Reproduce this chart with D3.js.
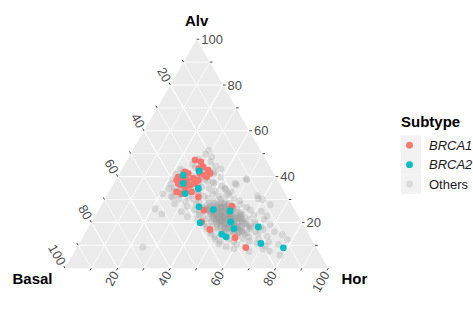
<!DOCTYPE html>
<html>
<head>
<meta charset="utf-8">
<script src="https://cdn.jsdelivr.net/npm/d3@7"></script>
<style>
  html, body { margin: 0; padding: 0; background: #ffffff; }
  svg { display: block; font-family: "Liberation Sans", Arial, Helvetica, sans-serif; }
</style>
</head>
<body>
<svg id="chart" width="473" height="336"></svg>
<script>
// Ternary composition plot: Basal / Alv / Hor (percent), coloured by subtype.
// Each sample is stored as [Alv, Hor]; Basal is the remainder to 100.

const axisNames = ["Basal", "Alv", "Hor"];
const tickValues = [10, 20, 30, 40, 50, 60, 70, 80, 90, 100];
const tickLabels = ["20", "40", "60", "80", "100"];
const subtypes = ["BRCA1", "BRCA2", "Others"];
const subtypeColors = ["#F8766D", "#00BFC4", "#999999"];

const brca1 = [
  [47.2, 25.8], [46.4, 28.4], [44.2, 30.4], [42.8, 33.0], [41.4, 34.4],
  [39.9, 33.9], [41.4, 30.6], [41.4, 26.1], [42.1, 24.5], [39.9, 23.1],
  [38.4, 23.2], [38.4, 25.1], [38.4, 27.0], [39.2, 29.1], [38.4, 31.4],
  [37.0, 30.9], [36.2, 29.4], [35.5, 27.8], [37.0, 24.5], [33.3, 25.8],
  [32.6, 28.0], [33.3, 29.2], [33.3, 31.4], [40.6, 32.9], [31.1, 35.1],
  [25.3, 40.1], [27.1, 49.8], [20.2, 41.8], [16.9, 46.6], [13.3, 57.9],
  [9.0, 64.2], [43.5, 29.0], [36.5, 25.6]
];

const brca2 = [
  [40.6, 24.6], [42.5, 29.7], [37.0, 26.4], [32.6, 29.3], [34.8, 33.2],
  [26.8, 37.5], [25.6, 43.5], [25.0, 50.2], [19.8, 41.4], [20.2, 52.8],
  [17.3, 55.5], [14.8, 52.1], [13.7, 54.3], [18.0, 64.4], [10.8, 69.0],
  [8.9, 78.5]
];

const others = [
  [51.5, 28.9], [49.8, 28.5], [48.7, 31.3], [47.6, 26.9], [46.5, 32.2],
  [45.4, 25.7], [44.6, 34.9], [43.3, 22.3], [42.1, 35.6], [43.4, 37.5],
  [41.2, 21.5], [40.0, 29.0], [41.1, 35.9], [39.8, 39.3], [40.9, 25.3], [39.9, 32.9],
  [38.9, 21.4], [37.8, 28.3], [38.8, 33.6], [37.6, 37.4], [38.9, 49.5], [37.9, 24.5], [39.1, 31.3],
  [36.8, 21.8], [35.6, 26.3], [36.5, 30.1], [35.3, 34.3], [37.1, 38.0], [35.9, 41.5], [36.6, 46.8],
  [35.1, 24.0], [37.0, 32.4],
  [34.7, 22.1], [33.5, 24.7], [34.4, 29.7], [33.2, 34.2], [34.9, 37.3], [33.7, 40.3], [34.5, 43.7],
  [33.4, 46.4], [34.8, 26.6], [33.6, 31.9],
  [32.5, 20.9], [31.3, 24.7], [32.2, 27.7], [31.0, 31.5], [32.7, 34.2], [31.5, 37.2], [32.4, 39.9],
  [31.2, 42.9], [32.6, 46.0], [31.7, 57.3],
  [30.3, 28.1], [29.1, 31.1], [30.1, 33.8], [28.9, 36.4], [30.5, 39.1], [29.2, 41.8], [30.2, 44.0],
  [29.0, 46.3], [30.4, 49.0], [29.4, 51.6], [30.0, 60.0],
  [28.1, 27.6], [26.9, 32.9], [27.8, 36.0], [26.7, 38.7], [28.3, 40.6], [27.0, 42.5], [28.0, 44.4],
  [26.8, 46.3], [28.2, 48.2], [27.1, 50.4], [27.9, 52.7], [26.6, 55.7], [27.7, 64.1],
  [25.9, 21.2], [24.7, 31.8], [25.6, 36.4], [24.5, 38.6], [26.1, 40.5], [24.9, 42.4], [25.8, 44.3],
  [24.6, 46.2], [26.0, 48.1], [24.8, 50.0], [25.7, 52.3], [24.4, 54.6], [25.5, 57.6], [24.9, 62.1],
  [23.7, 24.9], [22.5, 35.2], [23.5, 39.3], [22.4, 41.2], [23.9, 43.1], [22.7, 45.0], [23.6, 46.9],
  [22.3, 48.8], [23.8, 50.7], [22.6, 52.6], [23.4, 54.9], [22.2, 57.2], [23.3, 60.2], [22.8, 65.2],
  [21.6, 39.3], [20.4, 41.6], [21.5, 43.5], [20.3, 45.4], [21.8, 47.3], [20.6, 49.2], [21.4, 51.1],
  [20.2, 53.0], [21.7, 54.9], [20.5, 57.1], [21.3, 59.4], [20.1, 62.1], [21.2, 65.1],
  [19.4, 43.0], [18.2, 44.9], [19.3, 46.8], [18.1, 48.7], [19.6, 50.6], [18.4, 52.5], [19.2, 54.4],
  [18.0, 56.3], [19.5, 58.6], [18.3, 60.9], [19.1, 62.8], [17.9, 65.4], [19.0, 68.5],
  [17.2, 45.3], [16.0, 47.5], [17.1, 49.4], [15.9, 51.3], [17.4, 53.2], [16.2, 55.1], [17.0, 57.0],
  [15.8, 59.3], [17.3, 61.6], [16.1, 64.2], [16.9, 66.9], [16.0, 71.5],
  [15.0, 47.8], [13.8, 50.1], [14.9, 52.4], [13.7, 54.7], [15.2, 56.6], [14.0, 58.5], [14.8, 60.8],
  [13.6, 63.0], [15.1, 65.7], [13.9, 69.9], [14.6, 75.2],
  [12.8, 50.5], [11.6, 53.1], [12.7, 55.8], [11.5, 58.4], [13.0, 61.1], [11.8, 64.1], [12.6, 67.2],
  [11.4, 71.7], [12.5, 78.2],
  [10.6, 53.1], [9.4, 56.5], [10.5, 60.0], [9.3, 63.7], [10.8, 67.5], [9.6, 71.3], [10.4, 75.9],
  [8.5, 59.9], [7.3, 66.3], [8.4, 70.9], [7.5, 73.9],
  [5.7, 78.8], [9.2, 25.0], [31.0, 25.5],
  [37.0, 46.1], [38.7, 49.6], [34.8, 43.4], [31.9, 45.5], [30.4, 58.2],
  [24.0, 47.5], [22.0, 49.5], [20.0, 48.0], [22.5, 51.5], [19.5, 53.5], [24.5, 44.5],
  [26.0, 49.0], [20.5, 56.0], [17.5, 52.0], [23.5, 55.5], [15.5, 58.0], [18.0, 61.5],
  [27.0, 45.5], [21.5, 46.0], [19.0, 50.0], [25.5, 41.5],
  // dense core of the lower group
  [27.8, 40.2], [28.3, 42.7], [27.2, 44.1], [28.0, 46.5], [27.4, 48.3], [26.9, 41.5], [28.6, 45.0], [27.1, 47.2],
  [25.8, 41.0], [26.2, 43.4], [25.5, 45.6], [26.4, 47.1], [25.1, 49.3], [25.9, 51.0], [26.6, 44.8], [25.3, 42.2],
  [26.1, 49.9], [24.8, 46.9],
  [23.9, 43.6], [24.3, 45.2], [23.4, 47.5], [24.1, 49.1], [23.6, 51.4], [24.4, 52.8], [23.2, 44.9], [23.8, 50.2],
  [24.6, 47.8], [22.9, 53.5],
  [22.2, 45.0], [21.6, 46.6], [22.4, 48.4], [21.3, 50.1], [22.0, 51.9], [21.8, 53.6], [22.6, 55.2], [21.1, 47.9],
  [21.5, 56.4], [22.3, 49.8],
  [20.4, 47.2], [19.6, 49.0], [20.2, 50.7], [19.3, 52.4], [20.6, 54.1], [19.8, 55.6], [20.1, 57.3], [19.1, 51.0],
  [20.8, 52.8], [19.5, 58.9],
  [18.2, 50.0], [17.6, 51.8], [18.4, 53.5], [17.2, 55.1], [18.0, 56.8], [17.5, 58.4], [18.6, 60.0], [17.0, 53.0],
  [18.3, 57.5],
  [16.2, 52.4], [15.7, 54.5], [16.4, 56.2], [15.3, 57.9], [16.0, 59.6], [15.5, 61.4], [16.6, 58.5],
  [23.0, 46.0], [21.0, 48.5], [22.8, 50.6], [20.5, 49.4], [24.7, 44.0], [19.9, 53.6], [21.9, 54.5], [23.5, 48.9],
  [20.7, 51.9], [22.5, 47.1], [18.9, 54.7], [24.2, 50.5], [26.3, 46.0], [17.8, 55.9], [21.4, 52.3],
  // extra samples around the upper group
  [43.9, 27.4], [41.8, 23.9], [39.4, 27.8], [37.4, 29.6], [35.8, 32.8], [38.0, 35.2], [42.5, 31.8], [40.3, 30.8]
];

const series = [brca1, brca2, others];

const W = 473, H = 336;
const svg = d3.select("#chart");
svg.append("rect").attr("width", W).attr("height", H).attr("fill", "#ffffff");

// Cartesian placement of a composition: Alv sets the height, Hor + Alv/2 the horizontal position.
const xScale = d3.scaleLinear().domain([0, 100]).range([65, 328.3]);
const yScale = d3.scaleLinear().domain([0, 100]).range([268.2, 39.2]);
const project = (alv, hor) => [xScale(hor + alv / 2), yScale(alv)];

const plot = svg.append("g");

// Panel background
const corners = [project(0, 0), project(100, 0), project(0, 100)];
plot.append("polygon")
  .attr("points", corners.map(p => p.join(",")).join(" "))
  .attr("fill", "#ebebeb");

// Grid lines for every 10%
const grid = plot.append("g").attr("stroke", "#ffffff").attr("fill", "none");
tickValues.filter(v => v < 100).forEach(v => {
  const w = v % 20 === 0 ? 1.1 : 0.75;
  const segs = [
    [project(v, 0), project(v, 100 - v)],          // Alv constant
    [project(100 - v, 0), project(0, 100 - v)],    // Basal constant
    [project(0, v), project(100 - v, v)]           // Hor constant
  ];
  segs.forEach(([a, b]) => {
    grid.append("line")
      .attr("x1", a[0]).attr("y1", a[1]).attr("x2", b[0]).attr("y2", b[1])
      .attr("stroke-width", w);
  });
});

// Ticks and labels along the three edges
const cos60 = 0.5, sin60 = Math.sqrt(3) / 2;
const edges = [
  { name: "Alv",   at: v => project(v, 100 - v), dir: [1, 0],           rot: 0,   anchor: "start" },
  { name: "Basal", at: v => project(100 - v, 0), dir: [-cos60, -sin60], rot: 60,  anchor: "end" },
  { name: "Hor",   at: v => project(0, v),       dir: [-cos60, sin60],  rot: -60, anchor: "end" }
];
const tickLen = 2.6, labelGap = 4.6;
const axes = plot.append("g");
edges.forEach(e => {
  tickValues.forEach(v => {
    const p = e.at(v);
    axes.append("line")
      .attr("x1", p[0]).attr("y1", p[1])
      .attr("x2", p[0] + e.dir[0] * tickLen).attr("y2", p[1] + e.dir[1] * tickLen)
      .attr("stroke", "#333333").attr("stroke-width", 0.9);
  });
  tickLabels.forEach(t => {
    const p = e.at(+t);
    const lx = p[0] + e.dir[0] * labelGap, ly = p[1] + e.dir[1] * labelGap;
    axes.append("text")
      .attr("transform", `translate(${lx},${ly}) rotate(${e.rot})`)
      .attr("text-anchor", e.anchor)
      .attr("dy", "0.36em")
      .attr("font-size", 13)
      .attr("fill", "#4d4d4d")
      .text(t);
  });
});

// Points: Others underneath, then BRCA1, then BRCA2
const pointLayer = plot.append("g");
[2, 0, 1].forEach(i => {
  pointLayer.append("g")
    .selectAll("circle")
    .data(series[i])
    .join("circle")
    .attr("cx", d => project(d[0], d[1])[0])
    .attr("cy", d => project(d[0], d[1])[1])
    .attr("r", 3.4)
    .attr("fill", subtypeColors[i])
    .attr("fill-opacity", i === 2 ? 0.27 : 1);
});

// Vertex titles
const titles = [
  { text: axisNames[1], x: 196.7, y: 25.5, anchor: "middle" },
  { text: axisNames[0], x: 12.5, y: 283.5, anchor: "start" },
  { text: axisNames[2], x: 341.5, y: 283.5, anchor: "start" }
];
titles.forEach(t => {
  svg.append("text")
    .attr("x", t.x).attr("y", t.y)
    .attr("text-anchor", t.anchor)
    .attr("font-size", 15)
    .attr("font-weight", "bold")
    .attr("fill", "#000000")
    .text(t.text);
});

// Legend
const legend = svg.append("g").attr("transform", "translate(401,0)");
legend.append("text")
  .attr("x", 0).attr("y", 127)
  .attr("font-size", 15).attr("font-weight", "bold")
  .text("Subtype");
const keyY = d3.scaleBand().domain(subtypes).range([135.5, 193.8]);
legend.selectAll("rect.key")
  .data(subtypes)
  .join("rect")
  .attr("class", "key")
  .attr("x", 0).attr("y", d => keyY(d))
  .attr("width", 20).attr("height", keyY.bandwidth())
  .attr("fill", "#f2f2f2");
legend.selectAll("circle.key")
  .data(subtypes)
  .join("circle")
  .attr("class", "key")
  .attr("cx", 8.5)
  .attr("cy", d => keyY(d) + keyY.bandwidth() / 2)
  .attr("r", 3.4)
  .attr("fill", (d, i) => subtypeColors[i])
  .attr("fill-opacity", (d, i) => i === 2 ? 0.27 : 1);
legend.selectAll("text.lab")
  .data(subtypes)
  .join("text")
  .attr("class", "lab")
  .attr("x", 28)
  .attr("y", d => keyY(d) + keyY.bandwidth() / 2)
  .attr("dy", "0.36em")
  .attr("font-size", 13)
  .attr("font-style", (d, i) => i < 2 ? "italic" : "normal")
  .attr("fill", "#1a1a1a")
  .text(d => d);
</script>
</body>
</html>
